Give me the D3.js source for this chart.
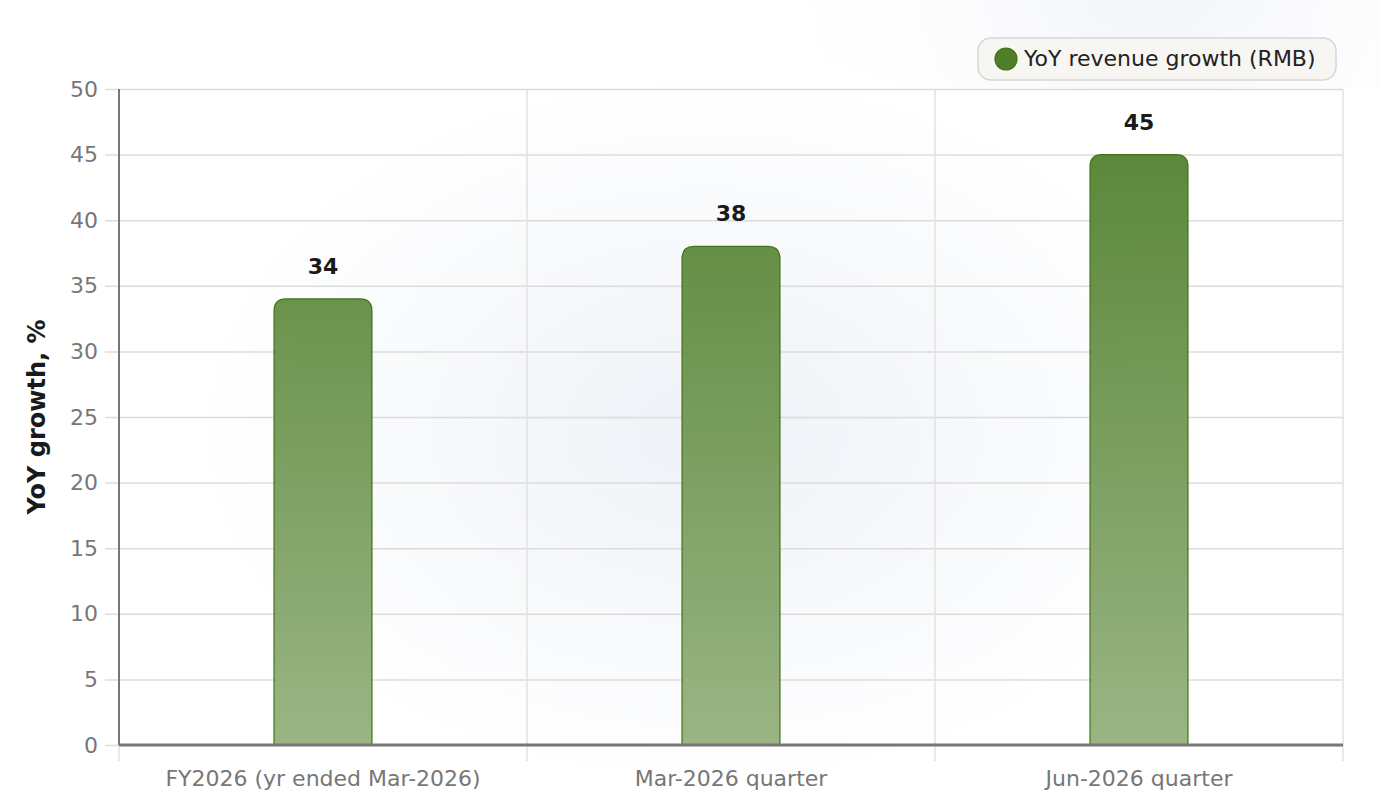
<!DOCTYPE html>
<html lang="en">
<head>
  <meta charset="UTF-8">
  <title>YoY revenue growth</title>
  <script src="https://d3js.org/d3.v7.min.js"></script>
  <style>
    html, body { margin: 0; padding: 0; background: #fff; }
    body { font-family: "DejaVu Sans", sans-serif; }
  </style>
</head>
<body>
  <div id="chart"></div>

  <script>
    const categories = ["FY2026 (yr ended Mar-2026)", "Mar-2026 quarter", "Jun-2026 quarter"];
    const growth = [34, 38, 45];
    const yTicks = [0, 5, 10, 15, 20, 25, 30, 35, 40, 45, 50];
    const seriesName = "YoY revenue growth (RMB)";

    const width = 1380, height = 808;
    const margin = {top: 89, right: 37, bottom: 63, left: 119};
    const innerW = width - margin.left - margin.right;
    const innerH = height - margin.top - margin.bottom;

    const svg = d3.select("#chart").append("svg")
        .attr("width", width)
        .attr("height", height);

    const defs = svg.append("defs");

    // soft background glow
    const bg = defs.append("radialGradient")
        .attr("id", "bg-glow")
        .attr("cx", "50%").attr("cy", "52%").attr("r", "50%");
    bg.append("stop").attr("offset", "0%").attr("stop-color", "#eef2f7");
    bg.append("stop").attr("offset", "100%").attr("stop-color", "#ffffff");

    const topGlow = defs.append("radialGradient")
        .attr("id", "top-glow")
        .attr("gradientUnits", "userSpaceOnUse")
        .attr("cx", 1150).attr("cy", -40).attr("r", 420);
    topGlow.append("stop").attr("offset", "0%").attr("stop-color", "#f1f3f7");
    topGlow.append("stop").attr("offset", "100%").attr("stop-color", "#ffffff").attr("stop-opacity", 0);

    svg.append("rect").attr("width", width).attr("height", height).attr("fill", "#fff");
    svg.append("rect").attr("width", width).attr("height", margin.top).attr("fill", "url(#top-glow)");

    const barGrad = defs.append("linearGradient")
        .attr("id", "bar-grad")
        .attr("gradientUnits", "userSpaceOnUse")
        .attr("x1", 0).attr("y1", 0).attr("x2", 0).attr("y2", innerH);
    barGrad.append("stop").attr("offset", "0%").attr("stop-color", "#4c7c28");
    barGrad.append("stop").attr("offset", "100%").attr("stop-color", "#95b17e");

    const g = svg.append("g").attr("transform", `translate(${margin.left},${margin.top})`);

    g.append("ellipse")
        .attr("cx", innerW * 0.48).attr("cy", innerH * 0.5)
        .attr("rx", innerW * 0.42).attr("ry", innerH * 0.55)
        .attr("fill", "url(#bg-glow)");

    const x = d3.scaleBand()
        .domain(categories)
        .range([0, innerW])
        .paddingInner(0)
        .paddingOuter(0);

    const y = d3.scaleLinear()
        .domain([0, 50])
        .range([innerH, 0]);

    // horizontal grid + y ticks
    const yAxis = g.append("g")
        .call(d3.axisLeft(y).tickValues(yTicks).tickSize(-innerW).tickSizeOuter(0));
    yAxis.select(".domain").remove();
    yAxis.selectAll(".tick line")
        .attr("x1", -14)
        .attr("stroke", "#dcdcdc").attr("stroke-width", 1.5);
    yAxis.selectAll(".tick text")
        .attr("x", -21)
        .attr("fill", "#777").attr("font-size", 22).attr("font-family", "DejaVu Sans, sans-serif");

    // vertical category boundaries
    const bounds = categories.map(c => x(c)).concat([innerW]);
    g.append("g").selectAll("line")
        .data(bounds)
        .join("line")
        .attr("x1", d => d).attr("x2", d => d)
        .attr("y1", 0).attr("y2", innerH + 16)
        .attr("stroke", "#e2e2e2").attr("stroke-width", 1.5);

    // bars
    const barW = x.bandwidth() * 0.24;
    const r = 12;
    function topRounded(x0, y0, w, h, rr) {
      rr = Math.min(rr, h);
      return `M${x0},${y0 + h}V${y0 + rr}Q${x0},${y0} ${x0 + rr},${y0}H${x0 + w - rr}Q${x0 + w},${y0} ${x0 + w},${y0 + rr}V${y0 + h}Z`;
    }
    g.append("g").selectAll("path")
        .data(growth)
        .join("path")
        .attr("d", (d, i) => {
          const cx = x(categories[i]) + x.bandwidth() / 2;
          return topRounded(cx - barW / 2, y(d), barW, y(0) - y(d), r);
        })
        .attr("fill", "url(#bar-grad)")
        .attr("fill-opacity", 0.95)
        .attr("stroke", "#3f7414")
        .attr("stroke-width", 1.2);

    // value labels
    g.append("g").selectAll("text")
        .data(growth)
        .join("text")
        .attr("x", (d, i) => x(categories[i]) + x.bandwidth() / 2)
        .attr("y", d => y(d) - 25)
        .attr("text-anchor", "middle")
        .attr("font-size", 22)
        .attr("font-weight", "bold")
        .attr("fill", "#1a1a1a")
        .text(d => d);

    // axis lines
    g.append("line")
        .attr("x1", 0).attr("x2", 0).attr("y1", 0).attr("y2", innerH)
        .attr("stroke", "#777").attr("stroke-width", 2);
    g.append("line")
        .attr("x1", 0).attr("x2", innerW).attr("y1", innerH).attr("y2", innerH)
        .attr("stroke", "#777").attr("stroke-width", 3);

    // x labels
    const xAxis = g.append("g")
        .attr("transform", `translate(0,${innerH})`)
        .call(d3.axisBottom(x).tickSize(0).tickPadding(25));
    xAxis.select(".domain").remove();
    xAxis.selectAll(".tick text")
        .attr("fill", "#777").attr("font-size", 22).attr("font-family", "DejaVu Sans, sans-serif");

    // y axis title
    svg.append("text")
        .attr("transform", `translate(45,${margin.top + innerH / 2}) rotate(-90)`)
        .attr("text-anchor", "middle")
        .attr("font-size", 24)
        .attr("font-weight", "bold")
        .attr("fill", "#1a1a1a")
        .text("YoY growth, %");

    // legend
    const legend = svg.append("g").attr("transform", "translate(978,38)");
    legend.append("rect")
        .attr("width", 358).attr("height", 42)
        .attr("rx", 13)
        .attr("fill", "#f7f6f3")
        .attr("stroke", "#d6d6d6").attr("stroke-width", 1.5);
    legend.append("circle")
        .attr("cx", 28).attr("cy", 21).attr("r", 11)
        .attr("fill", "#4f7d29")
        .attr("stroke", "#3f7414").attr("stroke-width", 1.2);
    legend.append("text")
        .attr("x", 46).attr("y", 28)
        .attr("font-size", 22)
        .attr("fill", "#222")
        .text(seriesName);
  </script>
</body>
</html>
